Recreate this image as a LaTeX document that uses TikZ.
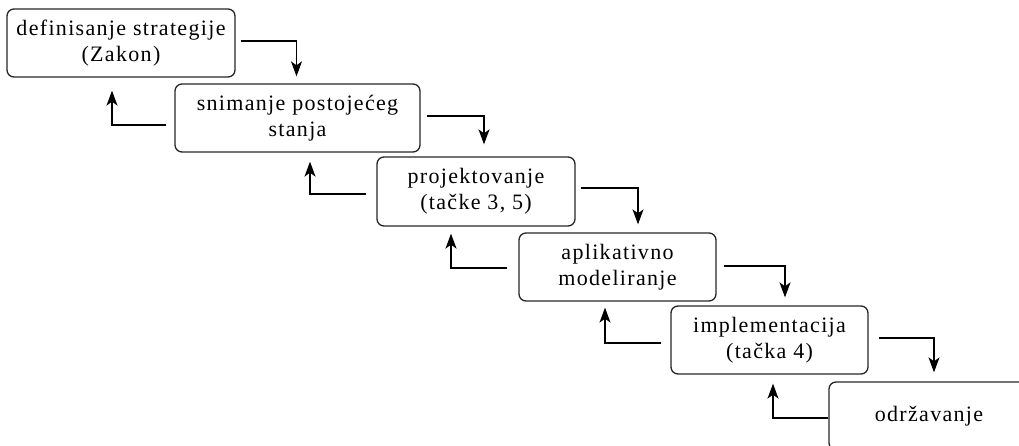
\documentclass[tikz,border=0pt]{standalone}
\usepackage{fontspec}
\setmainfont{Liberation Serif}[LetterSpace=6]
\usetikzlibrary{arrows.meta,calc}
\begin{document}
\begin{tikzpicture}[x=1pt,y=-1pt,
  box/.style={draw=black!85,line width=1.3pt,rounded corners=7pt,align=center,
    font=\fontsize{22}{26}\selectfont,inner sep=0pt},
  arr/.style={line width=1.4pt,-{Stealth[length=15pt,width=11pt,inset=4pt]}}]
\useasboundingbox (0,0) rectangle (1019,446);
\begin{scope}
\clip (0,0) rectangle (1019,446);
\node[box,minimum width=228pt,minimum height=68pt] (b1) at (121,43) {definisanje strategije\\(Zakon)};
\node[box,minimum width=245pt,minimum height=68pt] (b2) at (297.5,118) {snimanje postojećeg\\stanja};
\node[box,minimum width=198pt,minimum height=69pt] (b3) at (476,191.5) {projektovanje\\(tačke 3, 5)};
\node[box,minimum width=197pt,minimum height=68pt] (b4) at (617.5,267) {aplikativno\\modeliranje};
\node[box,minimum width=197pt,minimum height=68pt] (b5) at (769.5,340) {implementacija\\(tačka 4)};
\node[box,minimum width=200pt,minimum height=68pt] (b6) at (929,416) {održavanje};
\end{scope}
\draw[arr] ($(b1.east)+(5,-2)$) -| ($(b2.north)+(-1,-7)$);
\draw[arr] ($(b2.east)+(6,-2)$) -| ($(b3.north)+(8,-12)$);
\draw[arr] ($(b3.east)+(5,-3.5)$) -| ($(b4.north)+(20.5,-8)$);
\draw[arr] ($(b4.east)+(7,-1)$) -| ($(b5.north)+(15.5,-8)$);
\draw[arr] ($(b5.east)+(10,-2)$) -| ($(b6.north)+(5,-9)$);
\draw[arr] ($(b2.west)+(-8,7)$) -| ($(b1.south)+(-9,13)$);
\draw[arr] ($(b3.west)+(-10,2.5)$) -| ($(b2.south)+(12.5,9)$);
\draw[arr] ($(b4.west)+(-11,1)$) -| ($(b3.south)+(-25,7)$);
\draw[arr] ($(b5.west)+(-9,3)$) -| ($(b4.south)+(-12.5,6)$);
\draw[arr] ($(b6.west)+(0,2)$) -| ($(b5.south)+(3.5,9)$);
\end{tikzpicture}
\end{document}
